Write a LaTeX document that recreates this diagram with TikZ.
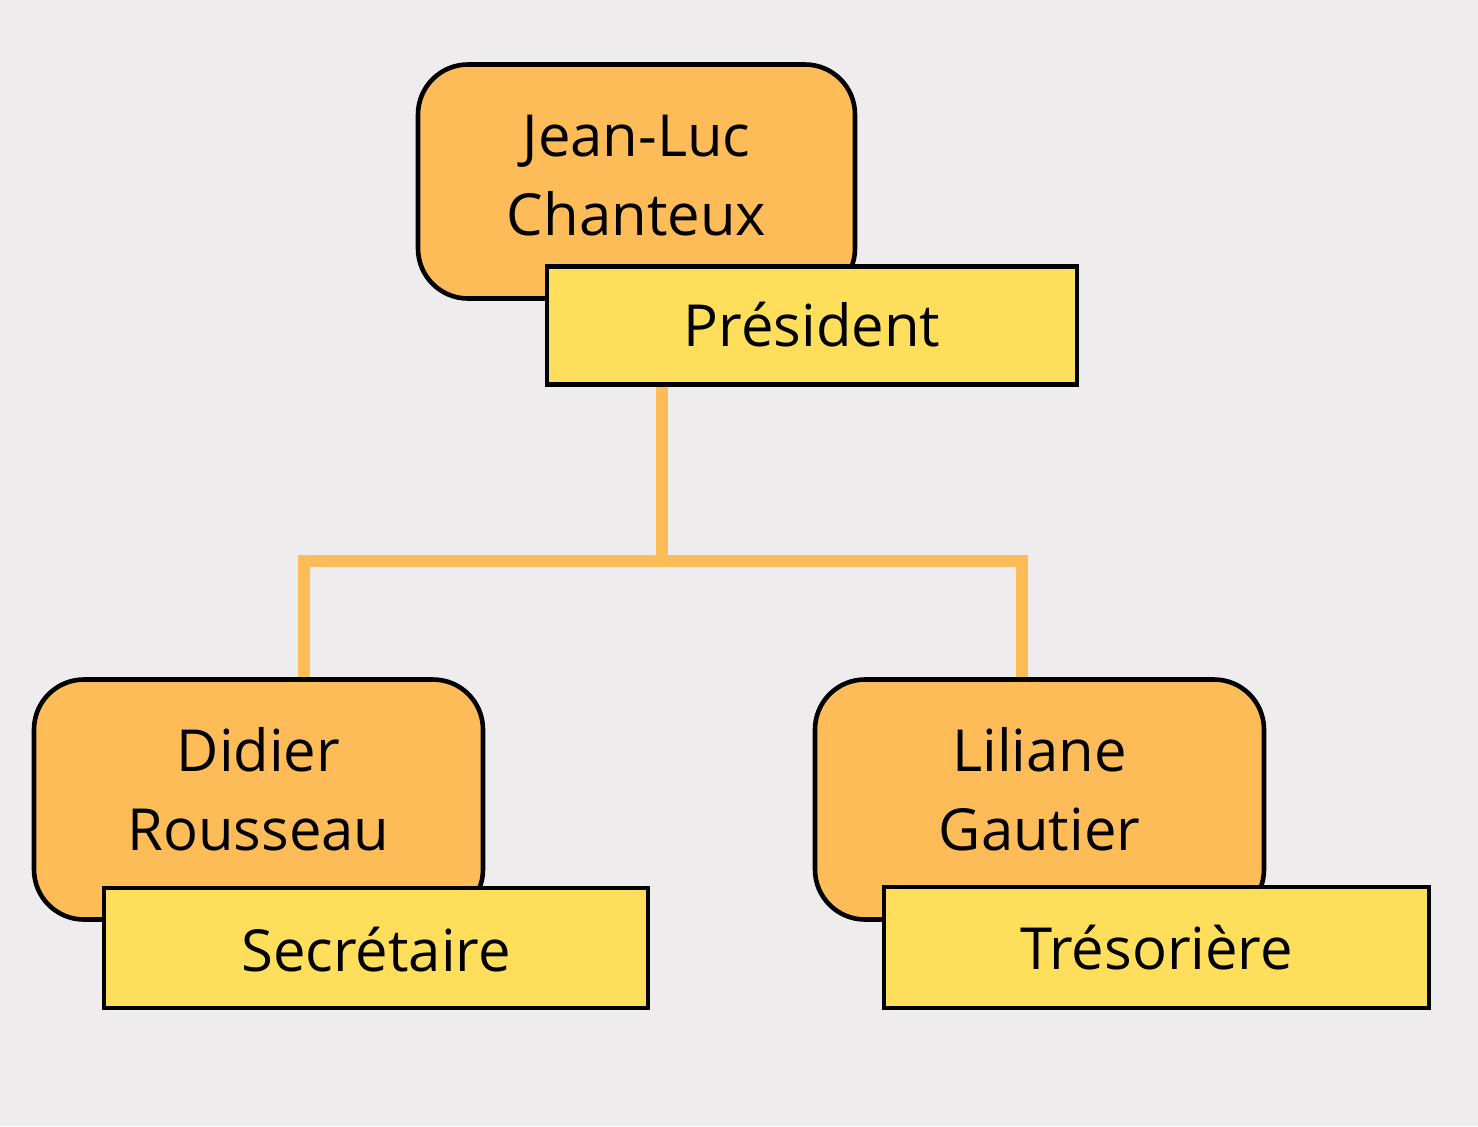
\documentclass[tikz,border=0pt]{standalone}
\usepackage{fontspec}
\setmainfont{Open Sans}
\definecolor{bgc}{HTML}{EEECEC}
\definecolor{orangec}{HTML}{FDBC58}
\definecolor{yellowc}{HTML}{FEDE5A}
\pgfdeclarelayer{canvas}
\pgfdeclarelayer{links}
\pgfsetlayers{canvas,links,main}
\newcommand{\liftby}[1]{\rule[-#1]{0pt}{0pt}}
\tikzset{
  namebox/.style={draw=black, line width=2.3pt, fill=orangec, rounded corners=25pt,
    minimum width=218.5pt, minimum height=117pt, align=center, inner sep=0pt,
    font=\fontsize{29}{39.5}\selectfont},
  rolebox/.style={draw=black, line width=2.3pt, fill=yellowc,
    minimum width=265pt, minimum height=59pt, inner sep=0pt,
    text height=20.7pt, text depth=0pt,
    font=\fontsize{29}{39.5}\selectfont},
  conn/.style={draw=orangec, line width=5.8pt}
}
\begin{document}
\begin{tikzpicture}[x=0.5pt,y=-0.5pt]
\begin{pgfonlayer}{canvas}
\fill[bgc] (0,0) rectangle (1478,1126);
\end{pgfonlayer}
\useasboundingbox (0,0) rectangle (1478,1126);
% top
\node[namebox] (jl) at (636.5,181.5) {Jean-Luc\\Chanteux\liftby{6pt}};
\node[rolebox] (pres) at (812,325.5) {Président};
% left
\node[namebox, minimum width=224.5pt, minimum height=120pt] (dr) at (258.5,799.5) {Didier\\Rousseau\liftby{11pt}};
\node[rolebox, minimum width=272pt, minimum height=60pt, text height=23pt] (sec) at (376,948) {Secrétaire};
% right
\node[namebox, minimum width=224.5pt, minimum height=120pt] (lg) at (1039.5,799.5) {Liliane\\Gautier\liftby{11pt}};
\node[rolebox, minimum width=272.5pt, minimum height=60.5pt, text height=21.5pt] (tre) at (1156.5,947.5) {Trésorière};
% connectors
\coordinate (jc) at (662,561);
\coordinate (jl0) at (304,561);
\coordinate (jr0) at (1022,561);
\begin{pgfonlayer}{links}
\draw[conn] (pres.south -| jc) -- (jc);
\draw[conn] (dr.north -| jl0) -- (jl0) -- (jr0) -- (lg.north -| jr0);
\end{pgfonlayer}
\end{tikzpicture}
\end{document}
